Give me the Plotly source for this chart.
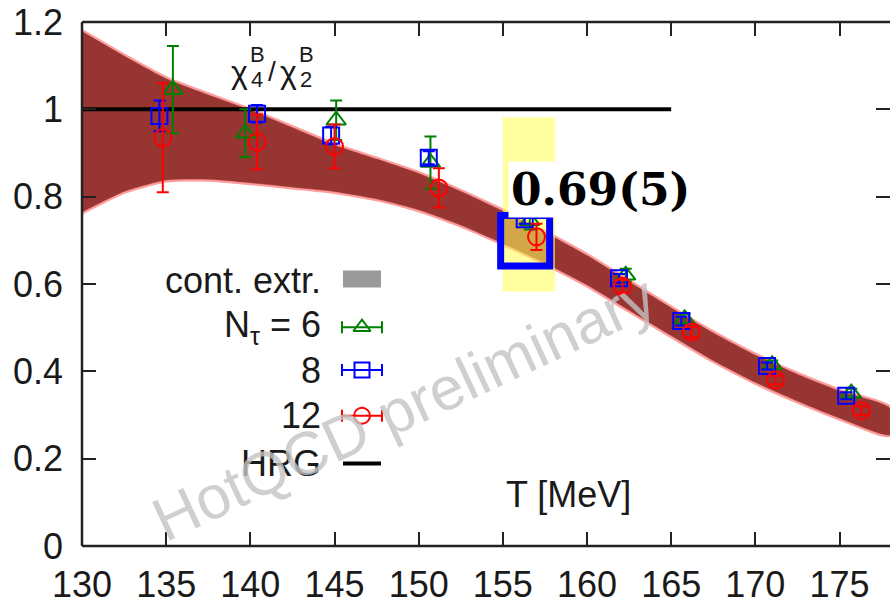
import plotly.graph_objects as go

# ---- continuum-extrapolated band (outer edges) ----
T_band = [130, 132.5, 135, 137.5, 140, 142.5, 145, 147.5, 150, 152.5, 155, 157.5,
          160, 162.5, 165, 167.5, 170, 172.5, 175, 178]
band_upper = [1.178, 1.122, 1.07, 1.033, 0.998, 0.958, 0.918, 0.886, 0.853, 0.812, 0.767, 0.718,
              0.665, 0.605, 0.545, 0.488, 0.437, 0.393, 0.355, 0.315]
band_lower = [0.765, 0.812, 0.838, 0.84, 0.832, 0.822, 0.812, 0.795, 0.77, 0.735, 0.693, 0.648,
              0.598, 0.54, 0.482, 0.425, 0.375, 0.332, 0.293, 0.255]

# ---- lattice data, N_tau = 6, 8, 12 ----
T_nt6 = [135.4, 139.7, 145.1, 150.7, 156.6, 162.3, 165.8, 171.0, 175.7]
chi_nt6 = [1.045, 0.945, 0.975, 0.878, 0.745, 0.62, 0.52, 0.415, 0.35]
err_nt6 = [0.10, 0.055, 0.045, 0.06, 0.02, 0.015, 0.012, 0.01, 0.01]

T_nt8 = [134.6, 140.4, 144.8, 150.6, 156.3, 161.9, 165.6, 170.7, 175.4]
chi_nt8 = [0.985, 0.99, 0.94, 0.889, 0.748, 0.613, 0.515, 0.412, 0.344]
err_nt8 = [0.035, 0.02, 0.02, 0.015, 0.01, 0.01, 0.01, 0.008, 0.008]

T_nt12 = [134.8, 140.4, 145.0, 151.2, 157.0, 162.1, 166.2, 171.2, 176.3]
chi_nt12 = [0.935, 0.925, 0.915, 0.82, 0.708, 0.595, 0.49, 0.38, 0.31]
err_nt12 = [0.125, 0.063, 0.05, 0.045, 0.03, 0.015, 0.012, 0.01, 0.01]

# ---- hadron resonance gas ----
hrg_T = [130, 165]
hrg_val = [1.0, 1.0]

# ---- highlighted pseudo-critical region ----
tc_window_T = [155.0, 158.1]
tc_window_y = [0.583, 0.982]
tc_box_T = [154.87, 157.78]
tc_box_y = [0.641, 0.757]
tc_value_text = "0.69(5)"

x_ticks = [130, 135, 140, 145, 150, 155, 160, 165, 170, 175]
y_ticks = [0, 0.2, 0.4, 0.6, 0.8, 1.0, 1.2]
y_ticklabels = ["0", "0.2", "0.4", "0.6", "0.8", "1", "1.2"]

legend_labels = ["cont. extr.", "N<sub>τ</sub> = 6", "8", "12", "HRG"]

SANS = "Liberation Sans, Arial, Helvetica, sans-serif"
TXT = "#1a1a1a"
GREEN = "rgb(0,128,0)"
BLUE = "rgb(0,0,255)"
RED = "rgb(255,0,0)"
BAND = "rgb(150,53,50)"
BAND_EDGE = "rgba(255,140,140,0.85)"

# plot area geometry (pixels) used for paper placement of decorations
L, T_, W, H = 82, 22, 808, 527


def px(x):
    return (x - L) / W


def py(y):
    return (T_ + H - y) / H


fig = go.Figure()

poly_T = T_band + T_band[::-1]
poly_y = band_upper + band_lower[::-1]

# soft pink rim of the band
fig.add_trace(go.Scatter(x=poly_T, y=poly_y, mode="lines", fill="toself",
                         fillcolor=BAND_EDGE,
                         line=dict(color=BAND_EDGE, width=5, shape="spline", smoothing=0.6),
                         hoverinfo="skip"))
# dark band body
fig.add_trace(go.Scatter(x=poly_T, y=poly_y, mode="lines", fill="toself",
                         fillcolor=BAND,
                         line=dict(color=BAND, width=0.5, shape="spline", smoothing=0.6),
                         hoverinfo="skip"))

# HRG line
fig.add_trace(go.Scatter(x=hrg_T, y=hrg_val, mode="lines",
                         line=dict(color="black", width=4), hoverinfo="skip"))

# translucent yellow highlight over the band
fig.add_trace(go.Scatter(
    x=[tc_window_T[0], tc_window_T[1], tc_window_T[1], tc_window_T[0], tc_window_T[0]],
    y=[tc_window_y[0], tc_window_y[0], tc_window_y[1], tc_window_y[1], tc_window_y[0]],
    mode="lines", fill="toself", fillcolor="rgba(255,255,88,0.57)",
    line=dict(width=0), hoverinfo="skip"))


def data_series(T, v, e, color, symbol, size):
    return go.Scatter(
        x=T, y=v, mode="markers",
        marker=dict(symbol=symbol, size=size, color=color,
                    line=dict(color=color, width=2)),
        error_y=dict(type="data", array=e, visible=True, color=color,
                     thickness=2, width=6))


fig.add_trace(data_series(T_nt6, chi_nt6, err_nt6, GREEN, "triangle-up-open", 17))
fig.add_trace(data_series(T_nt8, chi_nt8, err_nt8, BLUE, "square-open", 16))
fig.add_trace(data_series(T_nt12, chi_nt12, err_nt12, RED, "circle-open", 17))

# ---- key, drawn on an overlay axis spanning the plot area ----
key_x = px(362)
key_half = 20 / W
key_rows = [py(282), py(329), py(372), py(418), py(466)]
for (color, symbol, size), yk in zip(
        [(GREEN, "triangle-up-open", 15), (BLUE, "square-open", 15), (RED, "circle-open", 16)],
        key_rows[1:4]):
    fig.add_trace(go.Scatter(
        x=[key_x], y=[yk], xaxis="x2", yaxis="y2", mode="markers",
        marker=dict(symbol=symbol, size=size, color=color,
                    line=dict(color=color, width=2)),
        error_x=dict(type="constant", value=key_half, visible=True, color=color,
                     thickness=2, width=6)))

shapes = [
    # frame: left, bottom, top
    dict(type="line", xref="paper", yref="paper", x0=0, x1=0, y0=0, y1=1,
         line=dict(color="#222", width=2.5)),
    dict(type="line", xref="paper", yref="paper", x0=0, x1=1, y0=0, y1=0,
         line=dict(color="#222", width=2.5)),
    dict(type="line", xref="paper", yref="paper", x0=0, x1=1, y0=1, y1=1,
         line=dict(color="#222", width=2.5)),
    # key samples
    dict(type="rect", xref="paper", yref="paper", x0=px(343), x1=px(381),
         y0=py(289), y1=py(272), fillcolor="#9a9a9a", line=dict(width=0)),
    dict(type="line", xref="paper", yref="paper", x0=px(343), x1=px(381),
         y0=key_rows[4], y1=key_rows[4], line=dict(color="black", width=4)),
    # blue frame around the pseudo-critical value
    dict(type="rect", xref="x", yref="y", x0=tc_box_T[0], x1=tc_box_T[1],
         y0=tc_box_y[0], y1=tc_box_y[1], line=dict(color=BLUE, width=7)),
]

annotations = []
for lab, yk in zip(legend_labels, key_rows):
    annotations.append(dict(text=lab, xref="paper", yref="paper", x=px(323), y=yk,
                            xanchor="right", yanchor="middle", showarrow=False,
                            font=dict(family=SANS, size=36, color=TXT)))

# observable label chi_4^B / chi_2^B
for txt, x, y, sz in [("χ", 239, 72, 32), ("B", 257, 55, 22), ("4", 257, 80, 22),
                      ("/", 272, 72, 28), ("χ", 288, 72, 32), ("B", 306, 55, 22),
                      ("2", 306, 80, 22)]:
    annotations.append(dict(text=txt, xref="paper", yref="paper", x=px(x), y=py(y),
                            xanchor="center", yanchor="middle", showarrow=False,
                            font=dict(family=SANS, size=sz, color=TXT)))

annotations.append(dict(text="T [MeV]", xref="paper", yref="paper", x=px(568), y=py(497),
                        xanchor="center", yanchor="middle", showarrow=False,
                        font=dict(family=SANS, size=36, color=TXT)))

annotations.append(dict(text="HotQCD preliminary", xref="paper", yref="paper",
                        x=px(404), y=py(410), xanchor="center", yanchor="middle",
                        textangle=-25, showarrow=False,
                        font=dict(family=SANS, size=61, color="rgba(195,195,195,0.8)")))

annotations.append(dict(text="<b>" + tc_value_text + "</b>", xref="paper", yref="paper",
                        x=px(600), y=py(190), xanchor="center", yanchor="middle",
                        showarrow=False, bgcolor="white", borderpad=2,
                        font=dict(family="DejaVu Serif, serif", size=44, color="black")))

axis_common = dict(showgrid=False, zeroline=False, showline=False, mirror="ticks",
                   ticks="inside", ticklen=14, tickwidth=2, tickcolor="#222",
                   tickfont=dict(family=SANS, size=36, color=TXT))

fig.update_layout(
    width=890, height=605,
    margin=dict(l=L, r=0, t=T_, b=605 - T_ - H),
    paper_bgcolor="white", plot_bgcolor="white",
    showlegend=False,
    xaxis=dict(range=[130, 178], tickvals=x_ticks, ticklabelstandoff=14, **axis_common),
    yaxis=dict(range=[0, 1.2], tickvals=y_ticks, ticktext=y_ticklabels,
               ticklabelstandoff=18, **axis_common),
    xaxis2=dict(overlaying="x", range=[0, 1], visible=False, anchor="y2"),
    yaxis2=dict(overlaying="y", range=[0, 1], visible=False, anchor="x2"),
    shapes=shapes,
    annotations=annotations,
)

fig.write_html("out.html")
